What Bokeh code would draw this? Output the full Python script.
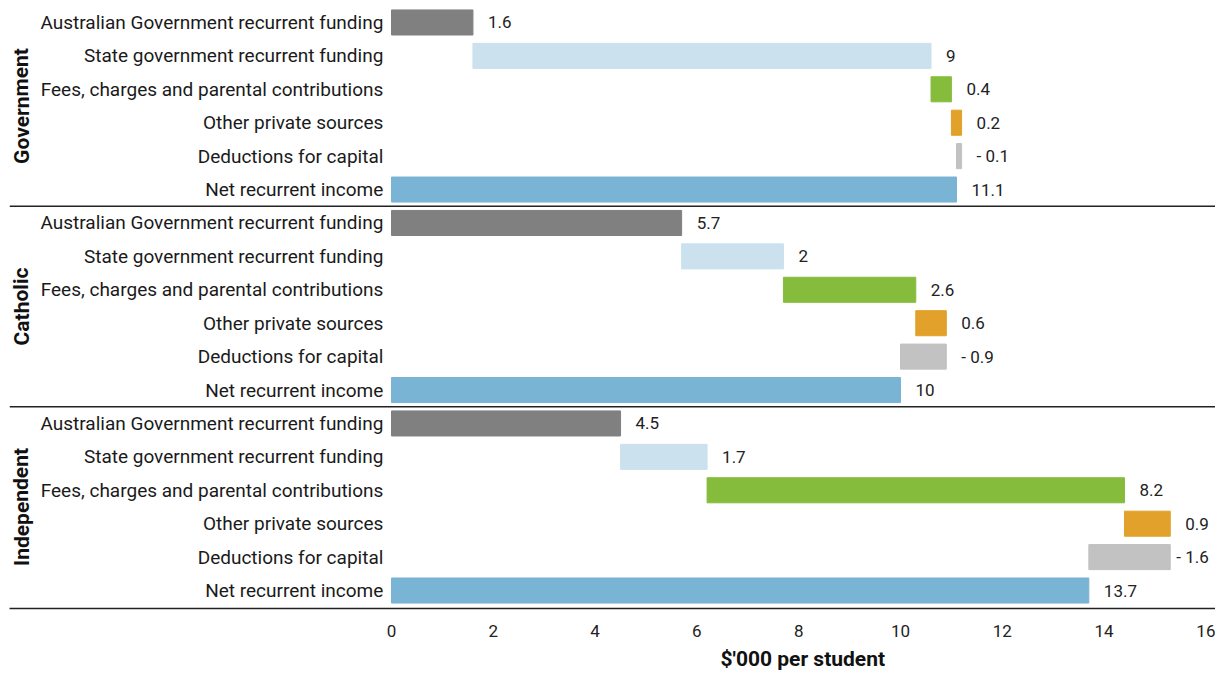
from bokeh.plotting import figure
from bokeh.models import Range1d, FixedTicker, Span, Title, ColumnDataSource
from bokeh.core.properties import value
from bokeh.embed import file_html
from bokeh.resources import INLINE

groups = ["Government", "Catholic", "Independent"]
items = ["Australian Government recurrent funding",
         "State government recurrent funding",
         "Fees, charges and parental contributions",
         "Other private sources",
         "Deductions for capital",
         "Net recurrent income"]
government = [1.6, 9, 0.4, 0.2, -0.1, 11.1]
catholic = [5.7, 2, 2.6, 0.6, -0.9, 10]
independent = [4.5, 1.7, 8.2, 0.9, -1.6, 13.7]
colors = ["#808080", "#cbe1ee", "#85bc3c", "#e1a12a", "#c2c2c2", "#7ab4d4"]
x_ticks = [0, 2, 4, 6, 8, 10, 12, 14, 16]

FONT = "Roboto"
series = [government, catholic, independent]

rows, lefts, rights, cols, labels, label_x, names, offs = [], [], [], [], [], [], [], []
r = 0
for vals in series:
    cum = 0.0
    for j, v in enumerate(vals):
        if j < len(vals) - 1:
            s, e = cum, cum + v
            cum = e
        else:
            s, e = 0.0, v
        rows.append(r)
        lefts.append(min(s, e))
        rights.append(max(s, e))
        cols.append(colors[j])
        lab = f"- {abs(v):g}" if v < 0 else f"{v:g}"
        labels.append(lab)
        label_x.append(max(s, e))
        # keep labels inside the plot when the bar reaches the right edge
        offs.append(6 if (max(s, e) > 15 and len(lab) > 3) else 15)
        names.append(items[j])
        r += 1

src = ColumnDataSource(dict(y=rows, left=lefts, right=rights, color=cols,
                            label=labels, lx=label_x, name=names, off=offs,
                            nx=[-0.16] * len(rows)))

scale = 50.9
x0 = (9 - 391) / scale
x1 = x0 + 1206 / scale
rowpx = 33.47
y_top = (8 - 22) / rowpx
y_bot = y_top + 601 / rowpx

p = figure(width=1215, height=676, output_backend="svg", toolbar_location=None,
           x_range=Range1d(x0, x1), y_range=Range1d(y_bot, y_top),
           y_axis_location=None, min_border_left=9, min_border_right=0,
           min_border_top=8, min_border_bottom=67)
p.outline_line_color = None
p.grid.visible = False
p.background_fill_color = "white"

p.hbar(y="y", left="left", right="right", height=0.75, color="color", source=src)
p.text(x="lx", y="y", text="label", source=src, x_offset="off",
       text_font=value(FONT), text_font_size="17px", text_color="#222222",
       text_align="left", text_baseline="middle")
p.text(x="nx", y="y", text="name", source=src,
       text_font=value(FONT), text_font_size="19px", text_color="#1a1a1a",
       text_align="right", text_baseline="middle")

gx = [(21 - 391) / scale] * 3
gy = [2.5 + 6 * k for k in range(3)]
p.text(x=gx, y=gy, text=groups, angle=1.5708,
       text_font=value(FONT), text_font_size="21px", text_font_style="bold",
       text_color="#111111", text_align="center", text_baseline="middle")

for k in range(1, 3):
    p.add_layout(Span(location=6 * k - 0.5, dimension="width",
                      line_color="#222222", line_width=1.5))

ax = p.xaxis[0]
ax.ticker = FixedTicker(ticks=x_ticks)
ax.axis_line_color = "#222222"
ax.axis_line_width = 1.5
ax.major_tick_line_color = None
ax.minor_tick_line_color = None
ax.major_label_standoff = 10
ax.major_label_text_font = FONT
ax.major_label_text_font_size = "17px"
ax.major_label_text_color = "#222222"

t = Title(text="$'000 per student", align="left", offset=711,
          text_font=FONT, text_font_size="21px", text_font_style="bold",
          text_color="#111111", standoff=11)
p.add_layout(t, "below")

open("out.html", "w").write(file_html(p, INLINE))
